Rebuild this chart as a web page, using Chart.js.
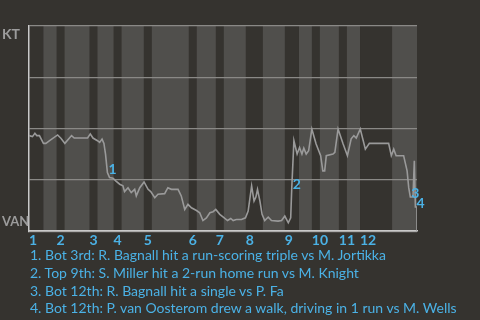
<!DOCTYPE html>
<html>
<head>
<meta charset="utf-8">
<script src="https://cdn.jsdelivr.net/npm/chart.js@4/dist/chart.umd.min.js"></script>
<style>
  html, body { margin: 0; padding: 0; background: #35332f; }
  #wrap { position: relative; width: 480px; height: 320px; overflow: hidden; }
  #chart { position: absolute; left: 0; top: 0; }
  #notes { position: absolute; left: 30px; top: 246px; font-family: Lato, sans-serif; font-size: 14px; color: #4bb2e6; line-height: 17.8px; white-space: nowrap; }
</style>
</head>
<body>
<div id="wrap">
  <canvas id="chart" width="480" height="250"></canvas>
  <div id="notes"></div>
</div>
<script>
// inning labels and where each half inning starts (in plays)
var innings = ['1','2','3','4','5','6','7','8','9','10','11','12'];
var halfStarts = [0, 5.4, 10.3, 13.3, 22.6, 25.6, 31.6, 34.6, 42.9, 45.9, 59.7, 62.7,
                  69.8, 72.8, 81, 87.4, 95.6, 100.9, 105.7, 108.7, 115.8, 118.8, 123.7, 135.7];
var lastPlay = 145;

// KT win probability after each play
var playNo = [0, 1.3, 2.2, 2.9, 3.9, 5.4, 6.3, 7.7, 10.7, 12, 13.4, 15.9, 16.9, 21.9, 22.9, 23.9,
  25.6, 26.4, 27.3, 28, 28.6, 29.3, 30.1, 31.4, 32.4, 33.9, 35.1, 35.7, 37, 38.2, 39.5, 40.1,
  41.4, 43, 44.5, 45.5, 47, 48.2, 50.7, 51.9, 53.2, 55.7, 56.9, 58.2, 59.4, 60.7, 62.6, 63.8,
  65, 66.3, 67.6, 68.8, 69.8, 71.3, 73.2, 74.2, 75.4, 76.3, 77.5, 79.4, 80.9, 81.9, 83.2, 84.1,
  84.8, 85.4, 86.3, 87.1, 88.1, 89.4, 90.6, 93.1, 94.4, 95.6, 96.9, 97.8, 98.2, 99, 100.2, 101.1,
  102, 102.7, 103.6, 104.5, 105.7, 107.3, 109, 109.8, 110.5, 111.1, 113.6, 114.3, 115.5, 117.4,
  119, 120.4, 121.4, 122.3, 123.8, 125.7, 127.2, 134.4, 135.4, 136.3, 137.2, 140, 141.3, 141.9,
  142.5, 143.5, 144, 144.4, 145, 145];
var ktPct = [46.6, 46.1, 47.7, 46.6, 46.6, 42.8, 42.8, 44.1, 46.9, 45.2, 42.8, 46.6, 45.4, 45.4, 47.4, 45.4,
  44.1, 43.3, 44.9, 42.8, 37.6, 28.6, 26.1, 25.8, 24.5, 22.9, 22.1, 19.3, 21.2, 18.8, 20.4, 17.2,
  21.2, 24, 20.4, 19.3, 16.3, 18, 18.3, 21.2, 20.4, 20.4, 17.2, 10.6, 13.1, 11.4, 10.1, 9,
  5.2, 6.5, 9, 9.5, 10.6, 8.2, 6.2, 5.2, 6.2, 5.2, 5.7, 5.7, 6.5, 9.8, 22.1, 14.7,
  16.7, 20.4, 14.7, 8.2, 5.2, 6.9, 5.2, 4.9, 5.2, 7.4, 4.1, 6.5, 21.2, 44.1, 37.6, 40.8,
  37.6, 40.5, 37.6, 39.2, 49.8, 42.5, 36.8, 29.4, 29.4, 36.8, 37.6, 38.4, 49.8, 42.5,
  36.8, 45, 46.6, 45.4, 49.8, 40, 42.8, 42.8, 36.8, 40, 36.8, 36.8, 29.4, 21.2,
  16.7, 16.7, 34.3, 11.8, 11.8, 0];

// key plays marked on the line
var markLabels = ['1', '2', '3', '4'];
var markPlays = [29.3, 98.2, 142.5, 144.4];
var notes = [
  '1. Bot 3rd: R. Bagnall hit a run-scoring triple vs M. Jortikka',
  '2. Top 9th: S. Miller hit a 2-run home run vs M. Knight',
  '3. Bot 12th: R. Bagnall hit a single vs P. Fa',
  '4. Bot 12th: P. van Oosterom drew a walk, driving in 1 run vs M. Wells'
];

var BG = '#35332f', BAND = '#504f4c', BLUE = '#4bb2e6';

document.getElementById('notes').innerHTML = notes.map(function(n){ return '<div>' + n + '</div>'; }).join('');

var inningStarts = halfStarts.filter(function(v, i){ return i % 2 == 0; });

var bands = {
  id: 'bands',
  beforeDraw: function(chart) {
    var ctx = chart.ctx, a = chart.chartArea, x = chart.scales.x;
    ctx.save();
    ctx.fillStyle = BG;
    ctx.fillRect(0, 0, chart.width, chart.height);
    ctx.fillStyle = BAND;
    for (var i = 1; i < halfStarts.length; i += 2) {
      var x0 = x.getPixelForValue(halfStarts[i]);
      var x1 = x.getPixelForValue(i + 1 < halfStarts.length ? halfStarts[i + 1] : lastPlay);
      ctx.fillRect(x0, a.top, x1 - x0, a.bottom - a.top);
    }
    ctx.restore();
  },
  afterDatasetsDraw: function(chart) {
    var ctx = chart.ctx, a = chart.chartArea, x = chart.scales.x, y = chart.scales.y;
    ctx.save();
    ctx.fillStyle = '#9c9c9c';
    ctx.textBaseline = 'middle';
    ctx.textAlign = 'left';
    ctx.font = 'bold 14px Lato, sans-serif';
    ctx.fillText('KT', 2, a.top + 8);
    ctx.font = 'bold 13px Lato, sans-serif';
    ctx.fillText('VAN', 2, a.bottom - 9);
    ctx.font = 'bold 14px Lato, sans-serif';
    ctx.fillStyle = BLUE;
    ctx.textBaseline = 'alphabetic';
    markPlays.forEach(function(p, i) {
      var v = ktPct[playNo.indexOf(p)];
      ctx.fillText(markLabels[i], x.getPixelForValue(p) + 1, y.getPixelForValue(v) + 1);
    });
    ctx.restore();
  }
};

new Chart(document.getElementById('chart'), {
  type: 'line',
  data: {
    datasets: [{
      data: playNo.map(function(p, i){ return {x: p, y: ktPct[i]}; }),
      borderColor: '#9a9a9a',
      borderWidth: 1.6,
      pointRadius: 0,
      tension: 0
    }]
  },
  options: {
    responsive: false,
    animation: false,
    layout: { padding: { left: 29, top: 26, right: 63, bottom: 0 } },
    plugins: { legend: { display: false }, tooltip: { enabled: false } },
    scales: {
      x: {
        type: 'linear', min: 0, max: lastPlay,
        afterBuildTicks: function(axis) {
          axis.ticks = inningStarts.map(function(v){ return {value: v}; });
        },
        grid: { display: false, drawTicks: false },
        border: { color: '#c9c9c9', width: 1.5 },
        ticks: {
          autoSkip: false, maxRotation: 0, align: 'start', padding: 1,
          color: BLUE, font: { family: 'Lato', size: 14, weight: 'bold' },
          callback: function(v, i) { return innings[i]; }
        }
      },
      y: {
        min: 0, max: 100,
        ticks: { display: false, stepSize: 25 },
        grid: { color: '#8a8986', lineWidth: 1.2, drawTicks: false },
        border: { color: '#c9c9c9', width: 1.5 }
      }
    }
  },
  plugins: [bands]
});
</script>
</body>
</html>
